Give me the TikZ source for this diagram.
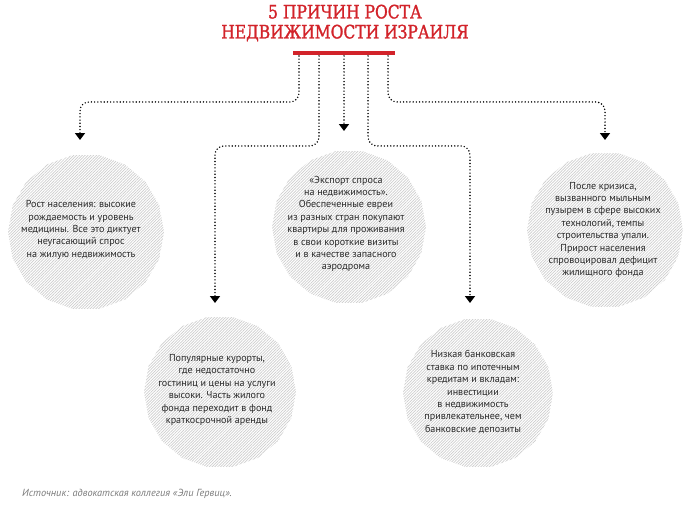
\documentclass[tikz,border=0pt]{standalone}
\usepackage{fontspec}
\setmainfont{PT Sans}
\newfontfamily\titlefont[FakeStretch=0.84, FakeBold=1.4]{DejaVu Serif}
\usetikzlibrary{
  arrows.meta,
  shapes.geometric,
  positioning,
  calc,
  patterns.meta
}
\definecolor{isRed}{HTML}{D2232A}
\definecolor{isText}{HTML}{2B2B2B}
\definecolor{isMute}{HTML}{7A7A7A}
\definecolor{isHatch}{HTML}{CDCDCD}
\tikzset{
  why/.style={
    shape=regular polygon, regular polygon sides=18, minimum size=156pt,
    inner sep=0pt, draw=none,
    pattern={Lines[angle=45, distance=2pt, line width=0.7pt]}, pattern color=isHatch
  },
  whytext/.style={font=\fontsize{10.1}{12.4}\selectfont, text=isText, align=center, inner sep=0pt},
  headline/.style={font=\titlefont\fontsize{18.5}{20}\selectfont, text=isRed, align=center, inner sep=0pt},
  redbar/.style={fill=isRed, minimum width=102pt, minimum height=3.5pt, inner sep=0pt},
  lead/.style={
    line width=1.6pt, dash pattern=on 0pt off 3.2pt, line cap=round,
    rounded corners=9pt, -{Triangle[width=10pt, length=7pt]}
  },
  source/.style={font=\itshape\fontsize{10.3}{12}\selectfont, text=isMute, anchor=west, inner sep=0pt}
}
\begin{document}
\begin{tikzpicture}[x=1pt, y=-1pt]
  \useasboundingbox (0,0) rectangle (688,512);
  % title and red bar
  \node[headline] (title) at (345,23) {5 ПРИЧИН РОСТА\\НЕДВИЖИМОСТИ ИЗРАИЛЯ};
  \node[redbar] (bar) at (344,53) {};
  % five reasons
  \node[why] (why1) at (86,232) {};
  \node[why, minimum size=152pt] (why2) at (220,392) {};
  \node[why, minimum size=154pt] (why3) at (349,227) {};
  \node[why] (why4) at (605,230) {};
  \node[why, minimum size=150pt] (why5) at (478,393) {};
  \node[whytext] (t1) at (81,230) {Рост населения: высокие\\рождаемость и уровень\\медицины. Все это диктует\\неугасающий спрос\\на жилую недвижимость};
  \node[whytext] (t2) at (217,390) {Популярные курорты,\\где недостаточно\\гостиниц и цены на услуги\\высоки. Часть жилого\\фонда переходит в фонд\\краткосрочной аренды};
  \node[whytext] (t3) at (346,224) {«Экспорт спроса\\на недвижимость».\\Обеспеченные евреи\\из разных стран покупают\\квартиры для проживания\\в свои короткие визиты\\и в качестве запасного\\аэродрома};
  \node[whytext] (t4) at (603,230) {После кризиса,\\вызванного мыльным\\пузырем в сфере высоких\\технологий, темпы\\строительства упали.\\Прирост населения\\спровоцировал дефицит\\жилищного фонда};
  \node[whytext] (t5) at (473,392) {Низкая банковская\\ставка по ипотечным\\кредитам и вкладам:\\инвестиции\\в недвижимость\\привлекательнее, чем\\банковские депозиты};
  % arrow tips above the circles
  \coordinate (tip1) at (80,140);
  \coordinate (tip2) at (215,303);
  \coordinate (tip3) at (344,131);
  \coordinate (tip4) at (605,140);
  \coordinate (tip5) at (470,303);
  % dotted leads
  \draw[lead] ($(bar.south)+(-45,1)$) -- ++(0,46) -| (tip1);
  \draw[lead] ($(bar.south)+(-25,1)$) -- ++(0,90) -| (tip2);
  \draw[lead] ($(bar.south)+(0,1)$) -- (tip3);
  \draw[lead] ($(bar.south)+(24,1)$) -- ++(0,90) -| (tip5);
  \draw[lead] ($(bar.south)+(44,1)$) -- ++(0,46) -| (tip4);
  \node[source] (src) at (22,494) {Источник: адвокатская коллегия «Эли Гервиц».};
\end{tikzpicture}
\end{document}
